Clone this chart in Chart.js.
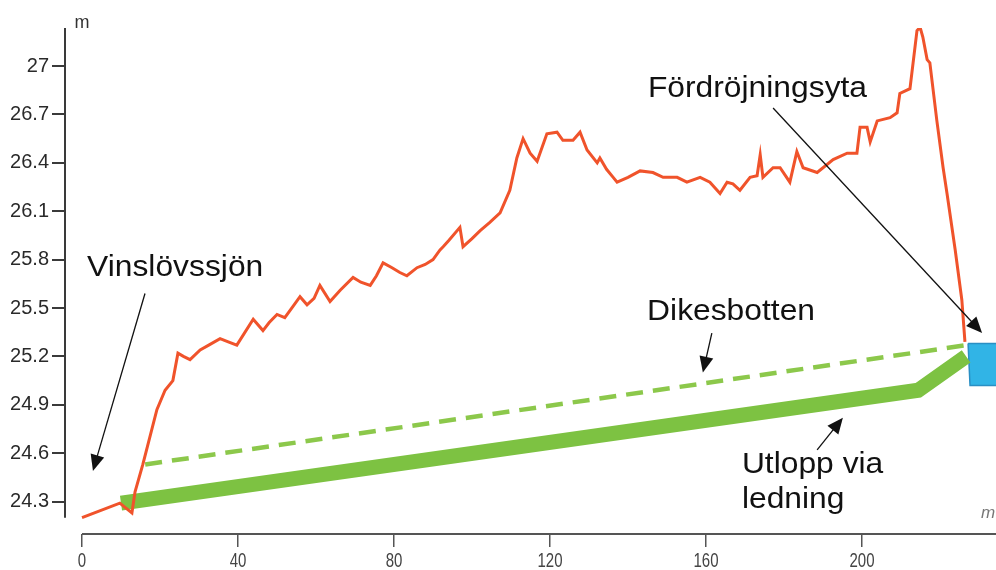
<!DOCTYPE html>
<html>
<head>
<meta charset="utf-8">
<script src="https://cdn.jsdelivr.net/npm/chart.js@4.4.1/dist/chart.umd.min.js"></script>
<style>
  body { margin: 0; background: #fff; }
  #wrap { width: 996px; height: 570px; }
</style>
</head>
<body>
<div id="wrap"><canvas id="profile" width="996" height="570"></canvas></div>
<script>
// Ground profile (m along the section, m above sea level)
const profileX = [0, 9.7, 12.8, 13.6, 15.6, 19.2, 21.3, 23.3, 24.6, 26.0, 27.7, 30.3, 32.5, 35.4, 37.5, 39.7, 43.9, 46.4,
  48.0, 50.0, 52.0, 54.1, 55.9, 57.7, 59.5, 61.0, 63.6, 66.2, 69.5, 71.5, 73.9, 75.5, 77.2, 79.5, 81.5, 83.3, 85.9, 88.0,
  90.0, 91.8, 92.6, 94.1, 96.9, 97.7, 100.0, 102.1, 104.5, 107.2, 109.7, 111.5, 113.1, 114.9, 116.7, 119.2, 121.8, 123.3, 125.9,
  127.7, 129.5, 132.1, 132.8, 134.5, 136.2, 137.2, 140.0, 143.1, 146.4, 149.0, 152.6, 155.1, 158.5, 161.0,
  163.6, 165.4, 166.9, 168.7, 171.3, 173.1, 173.9, 174.6, 177.2, 179.0, 181.5, 183.3, 184.9,
  188.5, 192.6, 196.2, 198.7, 199.5, 201.3, 202.1, 203.9, 207.2, 209.0, 209.7, 212.3, 214.1,
  214.9, 215.6, 216.7, 217.4, 219.2, 220.8, 221.8, 223.9, 225.6, 226.4];
const profileY = [24.20, 24.29, 24.23, 24.36, 24.53, 24.87, 24.99, 25.05, 25.22, 25.20, 25.18, 25.24, 25.27, 25.31, 25.29, 25.27, 25.43, 25.36,
  25.41, 25.46, 25.44, 25.51, 25.57, 25.52, 25.56, 25.64, 25.54, 25.61, 25.69, 25.66, 25.64, 25.70, 25.78, 25.75, 25.72, 25.70, 25.75, 25.77,
  25.80, 25.86, 25.88, 25.92, 26.00, 25.88, 25.93, 25.98, 26.03, 26.09, 26.23, 26.43, 26.55, 26.46, 26.41, 26.58, 26.59, 26.54, 26.54,
  26.59, 26.48, 26.40, 26.43, 26.36, 26.31, 26.28, 26.31, 26.35, 26.34, 26.31, 26.31, 26.28, 26.31, 26.28,
  26.21, 26.28, 26.27, 26.23, 26.31, 26.32, 26.45, 26.31, 26.37, 26.37, 26.28, 26.47, 26.37,
  26.34, 26.42, 26.46, 26.46, 26.62, 26.62, 26.53, 26.66, 26.68, 26.71, 26.83, 26.86, 27.22,
  27.24, 27.18, 27.04, 27.02, 26.66, 26.37, 26.21, 25.86, 25.55, 25.29];

// Ditch bottom (Dikesbotten)
const ditchX = [16.2, 226.9];
const ditchY = [24.53, 25.27];

// Outlet pipe (Utlopp via ledning)
const pipeX = [10.0, 214.4, 226.7];
const pipeY = [24.29, 24.99, 25.20];

// Retention area (Fördröjningsyta)
const basinX = [227.2, 245, 245, 227.7, 227.2];
const basinY = [25.28, 25.28, 25.02, 25.02, 25.28];

const xTicks = [0, 40, 80, 120, 160, 200];
const xTickLabels = ['0', '40', '80', '120', '160', '200'];
const yTicks = [24.3, 24.6, 24.9, 25.2, 25.5, 25.8, 26.1, 26.4, 26.7, 27];
const yTickLabels = ['24.3', '24.6', '24.9', '25.2', '25.5', '25.8', '26.1', '26.4', '26.7', '27'];

// Labels and arrows, in data units
const notes = [
  { text: 'Vinslövssjön', x: 1.3, y: 25.70, from: [16.15, 25.59], to: [2.8, 24.49] },
  { text: 'Fördröjningsyta', x: 145.1, y: 26.81, from: [177.2, 26.74], to: [230.8, 25.345] },
  { text: 'Dikesbotten', x: 144.9, y: 25.425, from: [161.5, 25.345], to: [159.2, 25.10] },
  { text: 'Utlopp via', x: 169.2, y: 24.477, from: [188.5, 24.62], to: [195.1, 24.82] },
  { text: 'ledning', x: 169.2, y: 24.26 }
];

function toPoints(xs, ys) {
  return xs.map((x, i) => ({ x: x, y: ys[i] }));
}

function arrow(c, x1, y1, x2, y2) {
  const a = Math.atan2(y2 - y1, x2 - x1);
  const len = 16, half = 7;
  c.beginPath();
  c.moveTo(x1, y1);
  c.lineTo(x2 - Math.cos(a) * len * 0.7, y2 - Math.sin(a) * len * 0.7);
  c.stroke();
  c.beginPath();
  c.moveTo(x2, y2);
  c.lineTo(x2 - Math.cos(a) * len + Math.sin(a) * half, y2 - Math.sin(a) * len - Math.cos(a) * half);
  c.lineTo(x2 - Math.cos(a) * len - Math.sin(a) * half, y2 - Math.sin(a) * len + Math.cos(a) * half);
  c.closePath();
  c.fill();
}

const decor = {
  id: 'decor',
  afterDraw(chart) {
    const c = chart.ctx;
    const xs = chart.scales.x, ys = chart.scales.y;
    const area = chart.chartArea;
    c.save();
    // axis lines
    c.strokeStyle = '#3a3a3a';
    c.lineWidth = 2;
    c.beginPath();
    c.moveTo(area.left, area.top);
    c.lineTo(area.left, ys.getPixelForValue(24.2));
    c.stroke();
    c.strokeStyle = '#555';
    c.beginPath();
    c.moveTo(xs.getPixelForValue(0), area.bottom);
    c.lineTo(area.right, area.bottom);
    c.stroke();
    // x tick labels (narrow face, as in the original)
    c.fillStyle = '#444';
    c.font = '20px "Liberation Sans", Arial, sans-serif';
    c.textAlign = 'center';
    c.textBaseline = 'top';
    xTicks.forEach((v, i) => {
      c.save();
      c.translate(xs.getPixelForValue(v), area.bottom + 17);
      c.scale(0.75, 1);
      c.fillText(xTickLabels[i], 0, 0);
      c.restore();
    });
    c.textBaseline = 'alphabetic';
    // unit labels
    c.fillStyle = '#333';
    c.font = '18px "Liberation Sans", Arial, sans-serif';
    c.fillText('m', xs.getPixelForValue(0), area.top);
    c.fillStyle = '#777';
    c.font = 'italic 17px "Liberation Sans", Arial, sans-serif';
    c.textAlign = 'left';
    c.fillText('m', 981, ys.getPixelForValue(24.2));
    // notes
    c.fillStyle = '#111';
    c.strokeStyle = '#111';
    c.lineWidth = 1.3;
    c.font = '30px "Liberation Sans", Arial, sans-serif';
    notes.forEach(n => {
      const px = xs.getPixelForValue(n.x), py = ys.getPixelForValue(n.y);
      c.save();
      c.translate(px, py);
      c.scale(1.06, 1);
      c.fillText(n.text, 0, 0);
      c.restore();
      if (n.from) {
        arrow(c, xs.getPixelForValue(n.from[0]), ys.getPixelForValue(n.from[1]),
          xs.getPixelForValue(n.to[0]), ys.getPixelForValue(n.to[1]));
      }
    });
    c.restore();
  }
};

new Chart(document.getElementById('profile'), {
  type: 'line',
  data: {
    datasets: [
      {
        label: 'Markprofil',
        data: toPoints(profileX, profileY),
        borderColor: '#f0532b',
        borderWidth: 3,
        pointRadius: 0,
        tension: 0,
        order: 1
      },
      {
        label: 'Dikesbotten',
        data: toPoints(ditchX, ditchY),
        borderColor: '#8cc84b',
        borderWidth: 4.5,
        borderDash: [17, 10],
        pointRadius: 0,
        order: 2
      },
      {
        label: 'Utlopp via ledning',
        data: toPoints(pipeX, pipeY),
        borderColor: '#7dc242',
        borderWidth: 15,
        borderCapStyle: 'butt',
        borderJoinStyle: 'miter',
        pointRadius: 0,
        order: 3
      },
      {
        label: 'Fördröjningsyta',
        data: toPoints(basinX, basinY),
        borderColor: '#2a8fc4',
        backgroundColor: '#31b4e6',
        borderWidth: 1.5,
        fill: 'shape',
        pointRadius: 0,
        order: 4
      }
    ]
  },
  options: {
    responsive: false,
    animation: false,
    layout: { padding: { top: 28, right: 0, left: 0, bottom: 0 } },
    plugins: {
      legend: { display: false },
      tooltip: { enabled: false }
    },
    scales: {
      x: {
        type: 'linear',
        min: -4.36,
        max: 234.36,
        afterBuildTicks: (s) => { s.ticks = xTicks.map(v => ({ value: v })); },
        afterFit: (s) => { s.height = 36; },
        border: { display: false },
        grid: { drawOnChartArea: false, drawTicks: true, tickLength: 13, color: '#555', lineWidth: 1.5 },
        ticks: { display: false }
      },
      y: {
        type: 'linear',
        min: 24.099,
        max: 27.236,
        afterBuildTicks: (s) => { s.ticks = yTicks.map(v => ({ value: v })); },
        afterFit: (s) => { s.width = 65; },
        border: { display: false },
        grid: { drawOnChartArea: false, drawTicks: true, tickLength: 13, color: '#3a3a3a', lineWidth: 2 },
        ticks: {
          padding: 3,
          color: '#2a2a2a',
          font: { family: '"Liberation Sans", Arial, sans-serif', size: 20 },
          callback: (v, i) => yTickLabels[i]
        }
      }
    }
  },
  plugins: [decor]
});
</script>
</body>
</html>
